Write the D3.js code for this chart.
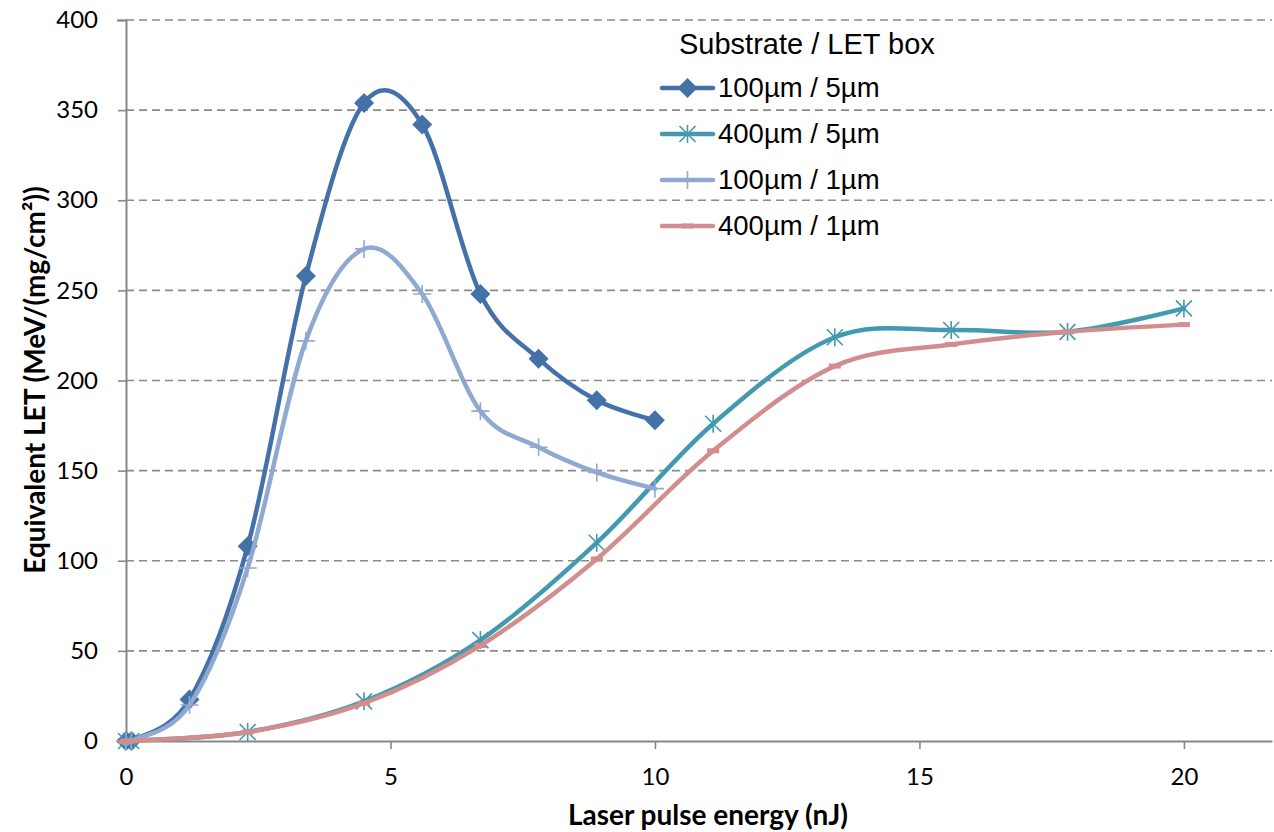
<!DOCTYPE html>
<html>
<head>
<meta charset="utf-8">
<script src="https://cdn.jsdelivr.net/npm/d3@7"></script>
<style>
  html, body { margin: 0; padding: 0; background: #fff; }
  svg { display: block; }
</style>
</head>
<body>
<svg id="chart" width="1274" height="832"></svg>
<script>
// Laser pulse energy (nJ) for each series
const energy100_5 = [0, 0.1, 1.2, 2.3, 3.4, 4.5, 5.6, 6.7, 7.8, 8.9, 10];
const let100_5    = [0, 0, 23, 108, 258, 354, 342, 248, 212, 189, 178];

const energy400_5 = [0, 0.1, 2.3, 4.5, 6.7, 8.9, 11.1, 13.4, 15.6, 17.8, 20];
const let400_5    = [0, 0, 5, 22, 56, 110, 176, 224, 228, 227, 240];

const energy100_1 = [0, 0.1, 1.2, 2.3, 3.4, 4.5, 5.6, 6.7, 7.8, 8.9, 10];
const let100_1    = [0, 0, 20, 96, 222, 273, 248, 183, 163, 149, 140];

const energy400_1 = [0, 0.1, 2.3, 4.5, 6.7, 8.9, 11.1, 13.4, 15.6, 17.8, 20];
const let400_1    = [0, 0, 5, 21, 53, 101, 161, 208, 220, 227, 231];

const seriesNames = ["100µm / 5µm", "400µm / 5µm", "100µm / 1µm", "400µm / 1µm"];
const legendTitle = "Substrate / LET box";
const xTicks = [0, 5, 10, 15, 20];
const yTicks = [0, 50, 100, 150, 200, 250, 300, 350, 400];
const xTitle = "Laser pulse energy (nJ)";
const yTitle = "Equivalent LET (MeV/(mg/cm²))";

const series = [
  { name: seriesNames[0], xs: energy100_5, ys: let100_5, color: "#4471a8", marker: "diamond" },
  { name: seriesNames[1], xs: energy400_5, ys: let400_5, color: "#4299b0", marker: "star" },
  { name: seriesNames[2], xs: energy100_1, ys: let100_1, color: "#8fa9d1", marker: "plus" },
  { name: seriesNames[3], xs: energy400_1, ys: let400_1, color: "#d28e8e", marker: "dash" }
];

const svg = d3.select("#chart");
const plotLeft = 126, plotRight = 1272, plotTop = 20, plotBottom = 741;

const x = d3.scaleLinear().domain([0, 21.665]).range([plotLeft, plotRight]);
const y = d3.scaleLinear().domain([0, 400]).range([plotBottom, plotTop]);

const axisColor = "#878787";
const tickFont = "Lato, 'Open Sans', sans-serif";
const legendFont = "'Liberation Sans', Arial, sans-serif";

// Horizontal dashed gridlines
svg.append("g").selectAll("line").data(yTicks.filter(d => d > 0)).join("line")
  .attr("x1", plotLeft).attr("x2", plotRight)
  .attr("y1", d => y(d)).attr("y2", d => y(d))
  .attr("stroke", "#8a8a8a").attr("stroke-width", 1.6)
  .attr("stroke-dasharray", "8,5");

// Y axis
const yAxis = d3.axisLeft(y).tickValues(yTicks).tickSize(9).tickPadding(19).tickFormat(d3.format("d"));
const gy = svg.append("g").attr("transform", `translate(${plotLeft},0)`).call(yAxis);
gy.select(".domain").attr("stroke", axisColor).attr("stroke-width", 2);
gy.selectAll(".tick line").attr("stroke", axisColor).attr("stroke-width", 1.6)
  .attr("stroke-dasharray", d => d > 0 ? "8,5" : null);
gy.selectAll(".tick text").attr("font-family", tickFont).attr("font-size", 24).attr("fill", "#000");

// X axis
const xAxis = d3.axisBottom(x).tickValues(xTicks).tickSize(8).tickPadding(19).tickSizeOuter(0);
const gx = svg.append("g").attr("transform", `translate(0,${plotBottom})`).call(xAxis);
gx.select(".domain").attr("stroke", axisColor).attr("stroke-width", 2);
gx.selectAll(".tick line").attr("stroke", axisColor).attr("stroke-width", 1.6);
gx.selectAll(".tick text").attr("font-family", tickFont).attr("font-size", 24).attr("fill", "#000");

// Marker shapes
function drawMarker(g, type, color, cx, cy) {
  if (type === "diamond") {
    const r = 10;
    g.append("path")
      .attr("d", `M${cx},${cy - r}L${cx + r},${cy}L${cx},${cy + r}L${cx - r},${cy}Z`)
      .attr("fill", color);
  } else if (type === "star") {
    const r = 8;
    g.append("path")
      .attr("d", `M${cx - r},${cy - r}L${cx + r},${cy + r}M${cx - r},${cy + r}L${cx + r},${cy - r}M${cx},${cy - r - 1}L${cx},${cy + r + 1}`)
      .attr("stroke", color).attr("stroke-width", 1.6).attr("fill", "none");
  } else if (type === "plus") {
    const r = 9;
    g.append("path")
      .attr("d", `M${cx - r},${cy}L${cx + r},${cy}M${cx},${cy - r}L${cx},${cy + r}`)
      .attr("stroke", color).attr("stroke-width", 1.6).attr("fill", "none");
  } else if (type === "dash") {
    g.append("rect").attr("x", cx - 6).attr("y", cy - 2.5).attr("width", 12).attr("height", 5)
      .attr("fill", color);
  }
}

// Smoothed series lines with markers
const line = d3.line().x(d => x(d[0])).y(d => y(d[1])).curve(d3.curveCardinal.tension(0));
series.forEach(s => {
  const pts = s.xs.map((v, i) => [v, s.ys[i]]);
  const g = svg.append("g");
  g.append("path").datum(pts).attr("d", line)
    .attr("fill", "none").attr("stroke", s.color).attr("stroke-width", 4.5)
    .attr("stroke-linecap", "round").attr("stroke-linejoin", "round");
  pts.forEach(p => drawMarker(g, s.marker, s.color, x(p[0]), y(p[1])));
});

// Legend
const legend = svg.append("g");
legend.append("text").attr("x", 679).attr("y", 54)
  .attr("font-family", legendFont).attr("font-size", 29)
  .attr("fill", "#000").text(legendTitle);
series.forEach((s, i) => {
  const ly = 88 + i * 46;
  legend.append("line").attr("x1", 662).attr("x2", 713).attr("y1", ly).attr("y2", ly)
    .attr("stroke", s.color).attr("stroke-width", 4.5).attr("stroke-linecap", "round");
  drawMarker(legend, s.marker, s.color, 687.5, ly);
  legend.append("text").attr("x", 718).attr("y", ly + 9)
    .attr("font-family", legendFont).attr("font-size", 27.5)
    .attr("fill", "#000").text(s.name);
});

// Axis titles
svg.append("text").attr("x", 708).attr("y", 825).attr("text-anchor", "middle")
  .attr("font-family", tickFont).attr("font-weight", "bold").attr("font-size", 28)
  .attr("fill", "#000").text(xTitle);
svg.append("text").attr("transform", "translate(45,380) rotate(-90)").attr("text-anchor", "middle")
  .attr("font-family", tickFont).attr("font-weight", "bold").attr("font-size", 28)
  .attr("fill", "#000").text(yTitle);
</script>
</body>
</html>
